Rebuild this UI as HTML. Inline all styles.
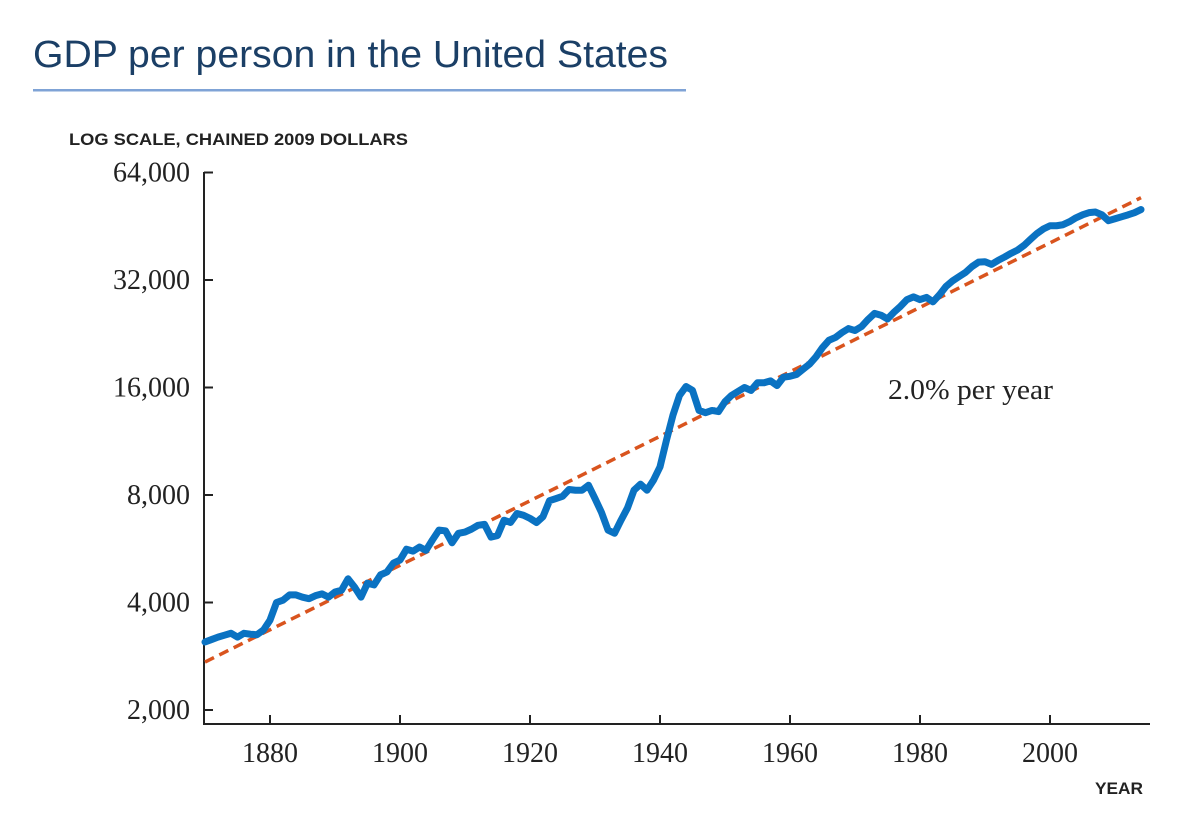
<!DOCTYPE html>
<html><head><meta charset="utf-8"><style>
body{margin:0;background:#fff;width:1200px;height:819px;overflow:hidden}
svg{display:block}
</style></head><body>
<svg id="chart" width="1200" height="819" xmlns="http://www.w3.org/2000/svg">
<text x="33" y="67" font-family="Liberation Sans, sans-serif" font-size="38" textLength="635" lengthAdjust="spacingAndGlyphs" fill="#1b3f66">GDP per person in the United States</text>
<rect x="33" y="89" width="653" height="2.5" fill="#7fa3d6"/>
<text x="69" y="145" font-family="Liberation Sans, sans-serif" font-size="17" font-weight="bold" textLength="339" lengthAdjust="spacingAndGlyphs" fill="#222">LOG SCALE, CHAINED 2009 DOLLARS</text>
<text x="1095" y="794" font-family="Liberation Sans, sans-serif" font-size="17" font-weight="bold" textLength="48" lengthAdjust="spacingAndGlyphs" fill="#222">YEAR</text>
<text x="888" y="399" font-family="Liberation Serif, serif" font-size="29" textLength="165" lengthAdjust="spacingAndGlyphs" fill="#222">2.0% per year</text>
<g id="axes"></g>
<g id="marks"></g>
</svg>
<script>
const years=[];for(let y=1870;y<=2014;y++)years.push(y);
const gdp=[3100,3150,3200,3240,3280,3200,3280,3260,3250,3350,3570,4000,4060,4200,4200,4140,4100,4180,4230,4140,4280,4330,4660,4420,4140,4530,4480,4780,4870,5160,5260,5640,5570,5720,5600,5990,6380,6350,5880,6250,6300,6420,6580,6620,6100,6160,6800,6700,7100,7020,6880,6700,6960,7710,7820,7930,8290,8250,8250,8520,7820,7150,6380,6250,6800,7360,8250,8580,8250,8800,9590,11400,13400,15200,16100,15700,13800,13600,13800,13700,14600,15200,15600,16000,15700,16500,16500,16700,16200,17100,17200,17400,18000,18600,19500,20700,21700,22100,22800,23400,23100,23700,24800,25800,25500,24900,26000,27000,28200,28700,28200,28600,27800,29100,30700,31800,32700,33600,34900,35900,36000,35400,36300,37100,38000,38800,40000,41600,43200,44500,45400,45400,45700,46600,47800,48700,49400,49600,48700,46900,47500,48100,48700,49400,50400];
const trendYears=[1870,2014];
const trendValues=[2725,54400];
const yTicks=[2000,4000,8000,16000,32000,64000];
const xTicks=[1880,1900,1920,1940,1960,1980,2000];
const NS="http://www.w3.org/2000/svg";
const X=y=>205+(y-1870)*6.5;
const Y=v=>710-Math.log2(v/2000)*107.5;
function mk(tag,attrs,parent){const e=document.createElementNS(NS,tag);for(const k in attrs)e.setAttribute(k,attrs[k]);parent.appendChild(e);return e;}
const axes=document.getElementById('axes'),marks=document.getElementById('marks');
let e=mk('line',{x1:204,y1:172,x2:204,y2:725,stroke:'#222','stroke-width':2},axes);


e=mk('line',{x1:203,y1:724,x2:1150,y2:724,stroke:'#222','stroke-width':2},axes);


yTicks.forEach(v=>{const y=Y(v);
 let t=mk('line',{x1:204,y1:y,x2:213,y2:y,stroke:'#222','stroke-width':2},axes);
 
 
 t=mk('text',{x:190,y:y+9,'text-anchor':'end','font-family':'Liberation Serif, serif','font-size':28,fill:'#222'},axes);
 t.textContent=v.toLocaleString('en-US');
 
 
});
xTicks.forEach(yr=>{const x=X(yr);
 let t=mk('line',{x1:x,y1:715,x2:x,y2:724,stroke:'#222','stroke-width':2},axes);
 
 
 t=mk('text',{x:x,y:762,'text-anchor':'middle','font-family':'Liberation Serif, serif','font-size':28,fill:'#222'},axes);
 t.textContent=yr;
 
 
});
e=mk('line',{x1:X(trendYears[0]),y1:Y(trendValues[0]),x2:X(trendYears[1]),y2:Y(trendValues[1]),stroke:'#d9541e','stroke-width':3.5,'stroke-dasharray':'10 6'},marks);


e=mk('polyline',{points:years.map((yr,i)=>X(yr)+','+Y(gdp[i])).join(' '),fill:'none',stroke:'#0a72c2','stroke-width':7,'stroke-linejoin':'round','stroke-linecap':'round'},marks);


</script>
</body></html>
